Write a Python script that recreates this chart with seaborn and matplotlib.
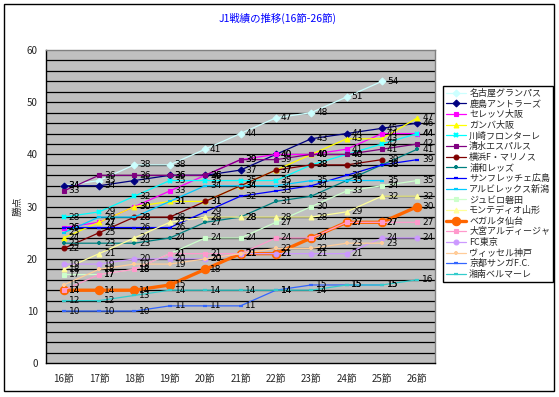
import numpy as np
import pandas as pd
import matplotlib
matplotlib.use("Agg")
import matplotlib.pyplot as plt
from matplotlib.patches import Rectangle
import seaborn as sns

nan = np.nan
rounds = ["16節", "17節", "18節", "19節", "20節", "21節", "22節", "23節", "24節", "25節", "26節"]

teams = ["名古屋グランパス", "鹿島アントラーズ", "セレッソ大阪", "ガンバ大阪", "川崎フロンターレ",
         "清水エスパルス", "横浜F・マリノス", "浦和レッズ", "サンフレッチェ広島", "アルビレックス新潟",
         "ジュビロ磐田", "モンテディオ山形", "ベガルタ仙台", "大宮アルディージャ", "FC東京",
         "ヴィッセル神戸", "京都サンガF.C.", "湘南ベルマーレ"]

nagoya    = [34, 35, 38, 38, 41, 44, 47, 48, 51, 54, nan]
kashima   = [34, 34, 35, 36, 36, 37, 40, 43, 44, 45, 46]
cerezo    = [26, 27, 30, 33, 36, 39, 40, 40, 41, 44, 44]
gamba     = [24, 27, 30, 31, 31, 34, 37, 40, 43, 43, 47]
kawasaki  = [28, 29, 32, 35, 35, 35, 35, 38, 40, 42, 44]
shimizu   = [33, 36, 36, 36, 36, 39, 39, 40, 40, 41, 42]
yokohama  = [22, 25, 28, 28, 31, 34, 37, 38, 38, 39, nan]
urawa     = [23, 23, 23, 24, 27, 28, 31, 32, 35, 38, 41]
hiroshima = [26, 26, 26, 26, 29, 32, 33, 34, 36, 38, 39]
niigata   = [25, 28, 28, 31, 34, 34, 34, 35, 35, 35, nan]
iwata     = [17, 17, 18, 21, 24, 24, 27, 30, 33, 34, 35]
yamagata  = [18, 21, 24, 27, 28, 28, 28, 28, 29, 32, 32]
sendai    = [14, 14, 14, 15, 18, 21, 21, 24, 27, 27, 30]
omiya     = [14, 17, 18, 21, 21, 21, 24, 24, 27, 27, 27]
tokyo     = [19, 19, 20, 20, 20, 21, 21, 21, 21, 24, 24]
kobe      = [15, 18, 19, 19, 20, 21, 22, 22, 23, 23, nan]
kyoto     = [10, 10, 10, 11, 11, 11, 14, 15, 15, 15, nan]
shonan    = [12, 12, 13, 14, 14, 14, 14, 14, 15, 15, 16]

series = [nagoya, kashima, cerezo, gamba, kawasaki, shimizu, yokohama, urawa, hiroshima,
          niigata, iwata, yamagata, sendai, omiya, tokyo, kobe, kyoto, shonan]

colors = ["#CCFFFF", "#000080", "#FF00FF", "#FFFF00", "#00FFFF", "#800080", "#800000", "#008080",
          "#0000FF", "#00CCFF", "#CCFFCC", "#FFFF99", "#FF6600", "#FF99CC", "#CC99FF", "#FFCC99",
          "#3366FF", "#33CCCC"]
markers = ["D", "D", "s", "^", "x", "s", "o", "+", "_", "_", "s", "^", "o", "s", "o", "+", "_", "_"]

rows = []
for t, vals in zip(teams, series):
    for i, v in enumerate(vals):
        rows.append({"team": t, "idx": i, "round": rounds[i], "pts": v})
df = pd.DataFrame(rows)

sns.set_style("white")
plt.rcParams["font.family"] = ["Noto Sans CJK JP", "DejaVu Sans"]

W, H = 559, 397
fig = plt.figure(figsize=(W / 100, H / 100), dpi=100)
fig.patch.set_facecolor("white")
ax = fig.add_axes([46 / W, 1 - 363.3 / H, (435 - 46) / W, (363.3 - 50) / H])
ax.set_facecolor("#C0C0C0")

for t, c, m in zip(teams, colors, markers):
    sub = df[df["team"] == t].dropna()
    big = (t == "ベガルタ仙台")
    sns.lineplot(data=sub, x="idx", y="pts", ax=ax, color=c, marker=m,
                 markersize=6 if big else 3.5,
                 markeredgecolor=c, markerfacecolor=c,
                 markeredgewidth=1.6 if m in ("_", "+", "x") else 0.8,
                 linewidth=2.4 if big else 0.9,
                 estimator=None, errorbar=None, label=t, legend=False, zorder=3)
    for _, r in sub.iterrows():
        ax.annotate(f"{int(r['pts'])}", (r["idx"], r["pts"]), xytext=(3.5, 0),
                    textcoords="offset points", ha="left", va="center",
                    fontsize=6.5, color="black", family="DejaVu Sans", zorder=4)

ax.set_xlim(-0.5, len(rounds) - 0.5)
ax.set_ylim(0, 60)
ax.set_xticks(range(len(rounds)))
ax.set_xticklabels(rounds, fontsize=7)
ax.set_xticks(np.arange(-0.5, len(rounds), 1.0), minor=True)
ax.tick_params(axis="x", which="major", length=0, pad=8)
ax.tick_params(axis="x", which="minor", length=3, direction="out", color="black", width=0.8)
ax.set_yticks(range(0, 61, 10))
ax.set_yticklabels([str(v) for v in range(0, 61, 10)], fontsize=7)
ax.set_yticks(range(0, 61, 2), minor=True)
ax.tick_params(axis="y", which="both", length=0, pad=6)
ax.grid(False)
for yv in range(2, 60, 2):
    ax.axhline(yv, color="black", linewidth=0.9, zorder=1)
ax.set_xlabel("")
ax.set_ylabel("勝点", fontsize=7, labelpad=3)
for s in ["top", "right"]:
    ax.spines[s].set_color("#808080")
    ax.spines[s].set_linewidth(1)
for s in ["left", "bottom"]:
    ax.spines[s].set_color("black")
    ax.spines[s].set_linewidth(1)

fig.text(0.497, 1 - 18 / H, "J1戦績の推移(16節-26節)", color="#0000FF", fontsize=7.5,
         ha="center", va="center")

handles, labels = ax.get_legend_handles_labels()
leg = fig.legend(handles, labels, loc="upper left", bbox_to_anchor=(443 / W, 1 - 86 / H),
                 fontsize=6.5, frameon=True, fancybox=False, edgecolor="black",
                 framealpha=1, borderaxespad=0, handlelength=2.2, handletextpad=0.4,
                 labelspacing=0.18, borderpad=0.3)
leg.get_frame().set_linewidth(1)

fig.patches.append(Rectangle((4 / W, 1 - 391 / H), 550 / W, 387 / H, transform=fig.transFigure,
                             fill=False, edgecolor="black", linewidth=1))

fig.savefig("out.png", dpi=100, facecolor="white")
